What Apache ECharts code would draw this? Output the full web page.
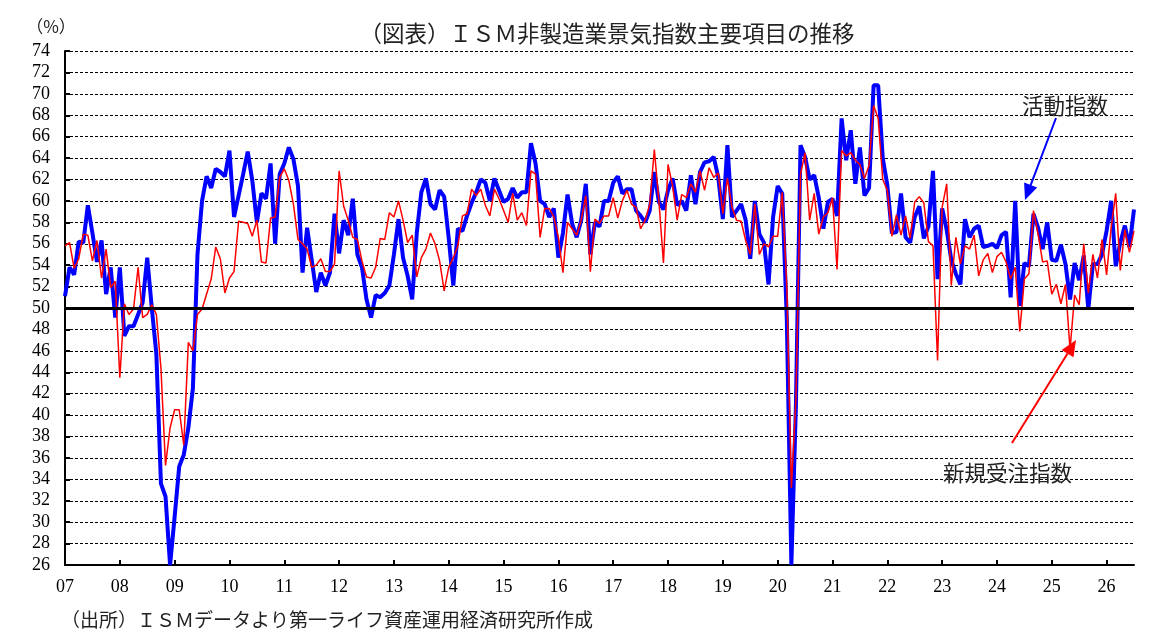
<!DOCTYPE html>
<html>
<head>
<meta charset="utf-8">
<script src="https://cdn.jsdelivr.net/npm/echarts@6/dist/echarts.min.js"></script>
<style>
  html, body { margin: 0; padding: 0; background: #fff; }
  #chart { width: 1161px; height: 643px; }
</style>
</head>
<body>
<div id="chart"></div>
<script>
// ============================
// データ（2007年1月〜、月次）
// ============================
var startYear = 2007;

// 活動指数（青・太線）
var activity = [
  51.1, 53.8, 53.1, 56.2, 56.1, 59.6, 57.0, 54.3, 56.3, 51.3, 53.8, 49.1,
  53.8, 47.4, 48.3, 48.3, 49.4, 50.5, 54.7, 50.0, 45.7, 33.6, 32.4, 26.0,
  30.5, 35.2, 36.3, 38.8, 42.5, 55.0, 60.0, 62.3, 61.2, 63.0, 62.7, 62.3,
  64.7, 58.5, 60.5, 62.5, 64.6, 61.9, 58.0, 60.7, 60.2, 63.5, 56.0, 62.5,
  63.5, 65.0, 63.9, 61.4, 53.3, 57.5, 54.5, 51.5, 53.3, 52.1, 53.3, 58.8,
  55.1, 58.2, 56.8, 60.2, 55.0, 53.8, 50.8, 49.1, 51.2, 51.0, 51.4, 52.1,
  55.0, 58.3, 54.7, 53.0, 50.8, 57.0, 60.8, 62.1, 59.7, 59.2, 61.0, 60.4,
  56.5, 52.1, 57.4, 57.2, 58.6, 59.8, 60.8, 62.0, 61.7, 60.0, 62.1, 61.0,
  59.9, 60.2, 61.2, 60.3, 60.8, 60.8, 65.4, 63.5, 60.0, 59.7, 58.5, 59.3,
  54.7, 57.0, 60.6, 57.9, 56.6, 58.2, 61.6, 55.0, 58.0, 57.6, 60.0, 60.0,
  61.7, 62.3, 60.7, 61.1, 61.1, 59.1, 58.6, 58.0, 59.1, 62.7, 59.9, 59.2,
  61.0, 62.1, 59.6, 60.0, 59.1, 62.4, 59.7, 62.7, 63.6, 63.7, 64.1, 62.2,
  58.3, 65.2, 58.5, 59.1, 59.7, 58.2, 54.6, 60.0, 56.9, 56.1, 52.2, 58.5,
  61.4, 60.7, 49.0, 26.0, 41.0, 65.2, 64.1, 62.0, 62.4, 60.3, 57.4, 59.9,
  60.2, 58.6, 67.7, 63.8, 66.6, 61.6, 65.0, 60.5, 61.2, 70.8, 70.8, 64.0,
  61.5, 57.0, 57.1, 60.7, 56.6, 56.1, 58.5, 59.5, 56.5, 57.6, 62.8, 52.7,
  59.3, 57.3, 54.5, 53.2, 52.2, 58.3, 56.6, 57.4, 57.7, 55.7, 55.8, 56.0,
  55.6, 56.8, 57.1, 51.0, 60.0, 50.2, 54.2, 53.9, 58.8, 57.5, 55.5, 58.0,
  54.5, 54.4, 55.9, 54.1, 50.8, 54.2, 52.6, 54.9, 49.9, 54.1, 54.1, 55.0,
  57.2, 60.0, 53.9, 56.1, 57.7, 55.7, 59.2
];

// 新規受注指数（赤・細線）
var newOrders = [
  55.8, 56.1, 53.7, 54.6, 56.9, 56.8, 54.4, 56.3, 52.8, 55.5, 51.9, 52.5,
  43.5, 50.4, 49.4, 49.9, 53.8, 49.1, 49.4, 50.3, 49.4, 44.4, 35.3, 38.8,
  40.5, 40.5, 37.2, 46.8, 46.0, 49.4, 49.9, 51.3, 52.7, 55.7, 54.6, 51.4,
  52.8, 53.4, 58.1, 58.0, 57.9, 56.7, 58.2, 54.3, 54.2, 58.4, 58.5, 62.2,
  63.0, 61.9, 59.7, 56.4, 56.0, 55.5, 53.8, 54.0, 54.6, 53.4, 53.4, 54.1,
  62.8, 59.5, 58.2, 56.6, 56.4, 54.4, 52.9, 52.8, 53.8, 56.5, 56.4, 58.9,
  58.5, 60.0, 58.2, 56.1, 56.8, 52.9, 54.7, 55.5, 57.0, 56.0, 54.4, 51.6,
  53.8, 54.7, 55.8, 58.6, 58.8, 61.1, 60.5, 61.1, 59.6, 58.6, 61.1, 60.2,
  59.1, 58.0, 60.7, 58.2, 58.9, 57.7, 62.8, 62.5, 56.6, 59.3, 59.3, 58.5,
  56.6, 53.3, 58.0, 57.4, 56.8, 58.2, 60.5, 53.4, 58.3, 57.9, 58.6, 58.6,
  60.3, 58.4, 60.0, 61.0, 59.7, 59.4, 57.4, 58.2, 59.7, 64.8, 60.0, 54.2,
  63.4, 61.4, 58.2, 60.6, 60.3, 61.6, 60.8, 62.8, 61.0, 63.1, 62.2, 62.6,
  58.8, 62.1, 59.4, 58.2, 58.1, 56.3, 55.0, 59.7, 55.0, 56.0, 55.7, 56.7,
  56.7, 60.8, 52.0, 33.2, 41.5, 62.5, 64.5, 58.2, 60.7, 56.9, 58.5, 58.9,
  60.3, 53.6, 64.7, 64.2, 64.5, 63.8, 63.4, 62.1, 63.3, 68.9, 67.7, 62.0,
  61.0, 56.7, 58.7, 56.8, 58.6, 56.5, 59.9, 60.4, 59.8, 56.2, 55.8, 45.1,
  59.4, 61.6, 52.1, 56.6, 54.1, 55.8, 55.5, 56.8, 53.0, 54.5, 55.1, 53.3,
  54.8, 55.2, 54.3, 52.7, 53.8, 47.8, 52.7, 53.2, 59.1, 56.9, 54.3, 54.4,
  51.3, 52.2, 50.4, 52.2, 46.1, 51.2, 50.3, 56.0, 51.4, 55.0, 52.8, 56.4,
  53.1, 57.5, 60.7, 53.5, 57.3, 55.2, 57.2
];

// 縦軸の範囲と基準線
var yMin = 26;
var yMax = 74;
var yStep = 2;
var baseLine = 50;

// 月次カテゴリ（"2007/1" ...）
var categories = activity.map(function (_, i) {
    return (startYear + Math.floor(i / 12)) + "/" + (i % 12 + 1);
});

var serif = "Liberation Serif";
var jp = "Noto Sans CJK JP";

// ============================
// 矢印（注記用）
// ============================
function arrow(x1, y1, x2, y2, color) {
    var ang = Math.atan2(y2 - y1, x2 - x1);
    var len = 16, half = 7;
    var bx = x2 - len * Math.cos(ang), by = y2 - len * Math.sin(ang);
    var px = -Math.sin(ang) * half, py = Math.cos(ang) * half;
    return [
        {
            type: "line",
            shape: { x1: x1, y1: y1, x2: bx, y2: by },
            style: { stroke: color, lineWidth: 2 },
            z: 100
        },
        {
            type: "polygon",
            shape: { points: [[x2, y2], [bx + px, by + py], [bx - px, by - py]] },
            style: { fill: color },
            z: 100
        }
    ];
}

var chart = echarts.init(document.getElementById("chart"));
var yearTick = function (i) { return i % 12 === 0; };

chart.setOption({
    animation: false,
    backgroundColor: "#fff",
    grid: { left: 65, right: 27, top: 51, bottom: 78 },
    xAxis: {
        type: "category",
        data: categories,
        boundaryGap: false,
        axisLine: { lineStyle: { color: "#000", width: 2 } },
        axisTick: { interval: yearTick, inside: true, length: 5, lineStyle: { color: "#000", width: 2 } },
        axisLabel: {
            interval: yearTick,
            formatter: function (v) { return v.slice(2, 4); },
            color: "#000",
            fontFamily: serif,
            fontSize: 18,
            margin: 13
        },
        splitLine: { show: false }
    },
    yAxis: {
        type: "value",
        min: yMin,
        max: yMax,
        interval: yStep,
        axisLine: { show: true, lineStyle: { color: "#000", width: 2 } },
        axisTick: { show: true, inside: true, length: 5, lineStyle: { color: "#000", width: 2 } },
        axisLabel: { color: "#000", fontFamily: serif, fontSize: 18, margin: 15 },
        splitLine: { lineStyle: { color: "#000", width: 1, type: [3, 2] } }
    },
    series: [
        {
            name: "活動指数",
            type: "line",
            data: activity,
            symbol: "none",
            lineStyle: { color: "#0000ff", width: 4 },
            z: 3,
            markLine: {
                silent: true,
                symbol: "none",
                label: { show: false },
                lineStyle: { color: "#000", width: 3, type: "solid" },
                data: [{ yAxis: baseLine }]
            }
        },
        {
            name: "新規受注指数",
            type: "line",
            data: newOrders,
            symbol: "none",
            lineStyle: { color: "#ff0000", width: 1.5 },
            z: 4
        }
    ],
    graphic: [
        {
            type: "text", x: 607, y: 33,
            style: { text: "（図表）ＩＳＭ非製造業景気指数主要項目の推移", fontFamily: jp, fontSize: 22.5, fill: "#222", align: "center", verticalAlign: "middle" }
        },
        {
            type: "text", x: 51, y: 27,
            style: { text: "（%）", fontFamily: jp, fontSize: 17, fill: "#222", align: "center", verticalAlign: "middle" }
        },
        {
            type: "text", x: 1022, y: 106,
            style: { text: "活動指数", fontFamily: jp, fontSize: 21.5, fill: "#222", align: "left", verticalAlign: "middle" },
            z: 100
        },
        {
            type: "text", x: 943, y: 473,
            style: { text: "新規受注指数", fontFamily: jp, fontSize: 21.5, fill: "#222", align: "left", verticalAlign: "middle" },
            z: 100
        },
        {
            type: "text", x: 61, y: 620,
            style: { text: "（出所）ＩＳＭデータより第一ライフ資産運用経済研究所作成", fontFamily: jp, fontSize: 19, fill: "#222", align: "left", verticalAlign: "middle" }
        }
    ].concat(arrow(1056, 118, 1025, 200, "#0000ff"), arrow(1012, 443, 1076, 340, "#ff0000"))
});
</script>
</body>
</html>
